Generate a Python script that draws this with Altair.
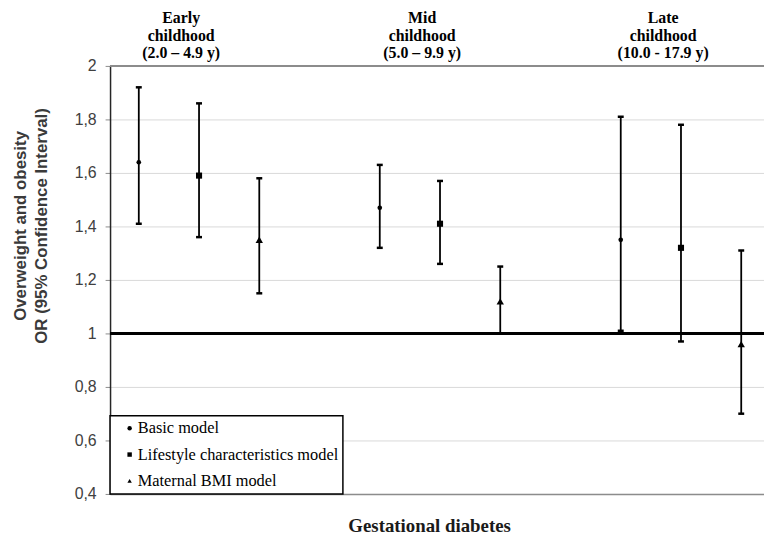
import altair as alt
import pandas as pd

periods = ["Early\nchildhood\n(2.0 – 4.9 y)",
           "Mid\nchildhood\n(5.0 – 9.9 y)",
           "Late\nchildhood\n(10.0 - 17.9 y)"]
models = ["Basic model", "Lifestyle characteristics model", "Maternal BMI model"]
odds_ratio = [1.64, 1.59, 1.35, 1.47, 1.41, 1.12, 1.35, 1.32, 0.96]
ci_lower = [1.41, 1.36, 1.15, 1.32, 1.26, 1.00, 1.01, 0.97, 0.70]
ci_upper = [1.92, 1.86, 1.58, 1.63, 1.57, 1.25, 1.81, 1.78, 1.31]
y_ticks = [0.4, 0.6, 0.8, 1.0, 1.2, 1.4, 1.6, 1.8, 2.0]
shapes = ["circle", "square", "triangle-up"]

rows = []
for p_i, p in enumerate(periods):
    for m_i, m in enumerate(models):
        k = p_i * 3 + m_i
        rows.append({"period": p, "period_idx": p_i, "model": m, "model_idx": m_i,
                     "or": odds_ratio[k], "lo": ci_lower[k], "hi": ci_upper[k]})
df = pd.DataFrame(rows)
labels_df = pd.DataFrame({"period": periods, "period_idx": list(range(len(periods)))})

x_scale = alt.Scale(domain=[-0.477, 10.378], nice=False, zero=False)
y_scale = alt.Scale(domain=[0.4, 2.0], nice=False, zero=False)

x_axis = alt.Axis(labels=False, ticks=False, grid=False,
                  domainColor="#8c8c8c", domainWidth=1.5,
                  title="Gestational diabetes", titleFont="Liberation Serif",
                  titleFontSize=19, titleFontWeight="bold", titleColor="#1a1a1a",
                  titleX=322, titleY=38, titleAlign="center", titleBaseline="alphabetic")
y_axis = alt.Axis(values=y_ticks, format=".2~f", labelExpr="replace(datum.label, '.', ',')",
                  grid=True, gridColor="#d9d9d9", gridWidth=1,
                  domainColor="#262626", domainWidth=1.5,
                  tickColor="#8c8c8c", tickSize=5, tickWidth=1, labelPadding=9,
                  labelFont="Liberation Sans", labelFontSize=16, labelColor="#404040",
                  title=["Overweight and obesity", "OR (95% Confidence Interval)"],
                  titleFont="Liberation Sans", titleFontSize=17, titleFontWeight="bold",
                  titleColor="#3a3a3a", titleAngle=270, titleX=-85, titleY=161,
                  titleAlign="center", titleBaseline="alphabetic", titleLineHeight=21)

X = alt.X("slot:Q", scale=x_scale, axis=x_axis)
Y = alt.Y("or:Q", scale=y_scale, axis=y_axis)

base = alt.Chart(df).transform_calculate(
    slot="datum.period_idx * 4 + datum.model_idx",
    msize="[22, 38, 55][datum.model_idx]")

top_line = alt.Chart(df).mark_rule(color="#8c8c8c", strokeWidth=1.5).encode(y=alt.datum(2.0, scale=y_scale))
ref_line = alt.Chart(df).mark_rule(color="black", strokeWidth=3).encode(y=alt.datum(1.0, scale=y_scale))

bars = base.mark_rule(color="black", strokeWidth=1.8).encode(
    x=X, y=alt.Y("lo:Q", scale=y_scale, axis=y_axis), y2="hi:Q")
caps_lo = base.mark_tick(orient="horizontal", color="black", size=6, thickness=2.5, opacity=1).encode(
    x=X, y=alt.Y("lo:Q", scale=y_scale, axis=y_axis))
caps_hi = base.mark_tick(orient="horizontal", color="black", size=6, thickness=2.5, opacity=1).encode(
    x=X, y=alt.Y("hi:Q", scale=y_scale, axis=y_axis))
points = base.mark_point(filled=True, color="black", opacity=1).encode(
    x=X, y=Y,
    shape=alt.Shape("model:N", scale=alt.Scale(domain=models, range=shapes),
                    legend=alt.Legend(title=None, orient="bottom-left", offset=0,
                                      labelExpr="datum.label + '    '")),
    size=alt.Size("msize:Q", scale=None, legend=None))

group_labels = alt.Chart(labels_df).transform_calculate(slot="datum.period_idx * 4 + 1").mark_text(
    font="Liberation Serif", fontSize=16, fontWeight="bold", lineBreak="\n", lineHeight=17.5,
    baseline="alphabetic", align="center", dx=-18, color="black").encode(
    x=X, y=alt.value(-43), text="period:N")

chart = alt.layer(top_line, ref_line, bars, caps_lo, caps_hi, points, group_labels).properties(
    width=660, height=432,
    padding={"left": 103, "top": 56, "right": 0, "bottom": 41},
    autosize=alt.AutoSizeParams(type="none"),
    background="white",
).configure_view(stroke=None).configure_legend(
    strokeColor="black", strokeWidth=1.5, fillColor="white", padding=4.5, symbolOffset=7,
    labelFont="Liberation Serif", labelFontSize=16.5, labelColor="black", rowPadding=9.5,
    symbolSize=20, symbolFillColor="black", symbolStrokeColor="black", symbolStrokeWidth=0,
    labelOffset=0, labelLimit=400, cornerRadius=0)

chart.save("out.html", embed_options={"renderer": "svg", "actions": False})
